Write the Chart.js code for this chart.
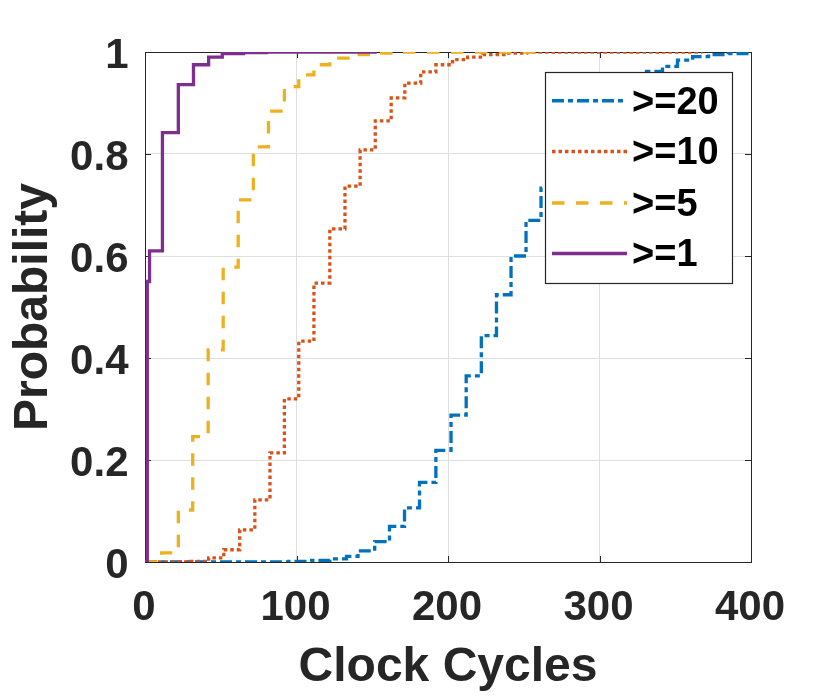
<!DOCTYPE html>
<html>
<head>
<meta charset="utf-8">
<script src="https://cdn.jsdelivr.net/npm/chart.js@4.4.1/dist/chart.umd.min.js"></script>
<style>
html,body{margin:0;padding:0;background:#ffffff;}
#wrap{width:830px;height:697px;position:relative;}
</style>
</head>
<body>
<div id="wrap"><canvas id="c" width="830" height="697"></canvas></div>
<script>
// ---- data ----
const seriesNames = ['>=20', '>=10', '>=5', '>=1'];

const x20 = [0, 95, 110, 122, 133, 140.6, 151.6, 161.4, 171.3, 181.2, 192, 202, 212, 222, 232, 241.6, 251.5, 261.4, 271, 281, 291, 301, 311, 321, 331, 341.6, 351.5, 361.5, 372, 385, 400];
const y20 = [0, 0.001, 0.003, 0.006, 0.011, 0.022, 0.04, 0.07, 0.106, 0.156, 0.219, 0.288, 0.365, 0.444, 0.524, 0.6, 0.67, 0.733, 0.79, 0.84, 0.88, 0.91, 0.935, 0.95, 0.962, 0.972, 0.984, 0.991, 0.995, 0.997, 0.999];

const x10 = [0, 30, 42, 52, 62.5, 72.5, 82.5, 92, 101.5, 111.5, 122, 132, 142, 152, 162.5, 171.5, 182, 192, 203, 213, 223, 238, 252, 368];
const y10 = [0, 0.001, 0.008, 0.024, 0.063, 0.122, 0.214, 0.32, 0.433, 0.547, 0.653, 0.737, 0.808, 0.865, 0.91, 0.939, 0.961, 0.975, 0.985, 0.99, 0.995, 0.998, 1, 1];

const x5 = [0, 11, 22, 31.5, 41.7, 51.6, 61.5, 71.5, 81.5, 92, 101.5, 111.5, 122, 134, 150, 165, 263];
const y5 = [0, 0.018, 0.102, 0.246, 0.416, 0.578, 0.71, 0.814, 0.884, 0.932, 0.955, 0.975, 0.988, 0.995, 0.998, 1, 1];

const x1 = [0, 1.5, 3, 11.5, 22, 32, 42, 51, 65, 80, 153];
const y1 = [0, 0.55, 0.61, 0.842, 0.936, 0.975, 0.99, 0.997, 0.999, 1, 1];

const xTickValues = [0, 100, 200, 300, 400];
const xTickLabels = ['0', '100', '200', '300', '400'];
const yTickValues = [0, 0.2, 0.4, 0.6, 0.8, 1];
const yTickLabels = ['0', '0.2', '0.4', '0.6', '0.8', '1'];

const xTitle = 'Clock Cycles';
const yTitle = 'Probability';

// ---- styles ----
const seriesColors = ['#0072BD', '#D95319', '#EDB120', '#7E2F8E'];
const seriesDashes = [[12, 4, 5, 4], [3.5, 3], [12.5, 11.5], []];
const FONT = '"Liberation Sans", Arial, Helvetica, sans-serif';
const TXT = '#262626';

const pairs = (xs, ys) => xs.map((x, i) => ({ x: x, y: ys[i] }));
const seriesData = [pairs(x20, y20), pairs(x10, y10), pairs(x5, y5), pairs(x1, y1)];

const datasets = seriesData.map((d, i) => ({
  label: seriesNames[i],
  data: d,
  borderColor: seriesColors[i],
  backgroundColor: seriesColors[i],
  borderDash: seriesDashes[i],
  borderWidth: 3.3,
  borderCapStyle: 'butt',
  borderJoinStyle: 'miter',
  pointRadius: 0,
  pointHoverRadius: 0,
  stepped: true,
  fill: false,
  tension: 0,
  order: 3 - i
}));

// frame + inward tick marks (MATLAB style)
const framePlugin = {
  id: 'frame',
  beforeDatasetsDraw(chart) {
    const { ctx, chartArea: a, scales } = chart;
    ctx.save();
    ctx.strokeStyle = TXT;
    ctx.lineWidth = 1;
    ctx.beginPath();
    xTickValues.forEach(v => {
      const px = Math.round(scales.x.getPixelForValue(v)) + 0.5;
      ctx.moveTo(px, a.bottom); ctx.lineTo(px, a.bottom - 6);
      ctx.moveTo(px, a.top); ctx.lineTo(px, a.top + 6);
    });
    yTickValues.forEach(v => {
      const py = Math.round(scales.y.getPixelForValue(v)) + 0.5;
      ctx.moveTo(a.left, py); ctx.lineTo(a.left + 6, py);
      ctx.moveTo(a.right, py); ctx.lineTo(a.right - 6, py);
    });
    ctx.stroke();
    ctx.strokeRect(Math.round(a.left) + 0.5, Math.round(a.top) + 0.5,
                   Math.round(a.right - a.left), Math.round(a.bottom - a.top));
    ctx.restore();
  }
};

// legend box inside the axes (top right)
const legendPlugin = {
  id: 'boxLegend',
  afterDatasetsDraw(chart) {
    const { ctx, chartArea: a } = chart;
    const left = a.right - 206, right = a.right - 19;
    const top = a.top + 20, bottom = a.top + 231;
    ctx.save();
    ctx.fillStyle = '#ffffff';
    ctx.fillRect(left, top, right - left, bottom - top);
    ctx.strokeStyle = TXT;
    ctx.lineWidth = 1.2;
    ctx.strokeRect(left + 0.5, top + 0.5, right - left, bottom - top);
    const rows = [48.8, 99.5, 151, 201.5];
    seriesNames.forEach((name, i) => {
      const y = a.top + rows[i];
      ctx.beginPath();
      ctx.setLineDash(seriesDashes[i]);
      ctx.lineCap = 'butt';
      ctx.strokeStyle = seriesColors[i];
      ctx.lineWidth = 3.5;
      ctx.moveTo(left + 7, y);
      ctx.lineTo(left + 82, y);
      ctx.stroke();
      ctx.setLineDash([]);
      ctx.fillStyle = '#000000';
      ctx.font = 'bold 38px ' + FONT;
      ctx.textAlign = 'left';
      ctx.textBaseline = 'middle';
      ctx.fillText(name, left + 87, y + 2.5);
    });
    ctx.restore();
  }
};

new Chart(document.getElementById('c'), {
  type: 'line',
  data: { datasets: datasets },
  options: {
    responsive: false,
    animation: false,
    devicePixelRatio: 1,
    layout: { padding: { top: 52, right: 79, left: 0, bottom: 0 } },
    plugins: { legend: { display: false }, tooltip: { enabled: false } },
    events: [],
    scales: {
      x: {
        type: 'linear',
        min: 0, max: 400,
        afterBuildTicks: s => { s.ticks = xTickValues.map(v => ({ value: v })); },
        afterFit: s => { s.height = 135; },
        grid: { color: '#dfdfdf', lineWidth: 1, drawTicks: false },
        border: { display: false },
        ticks: {
          autoSkip: false, maxRotation: 0, minRotation: 0,
          padding: 21, labelOffset: -1,
          color: TXT,
          font: { family: FONT, size: 42, weight: 'bold' },
          callback: (v, i) => xTickLabels[i]
        },
        title: {
          display: true, text: xTitle, color: TXT,
          font: { family: FONT, size: 48, weight: 'bold' },
          padding: { top: 0, bottom: 0 }
        }
      },
      y: {
        type: 'linear',
        min: 0, max: 1,
        afterBuildTicks: s => { s.ticks = yTickValues.map(v => ({ value: v })); },
        afterFit: s => { s.width = 145; },
        grid: { color: '#dfdfdf', lineWidth: 1, drawTicks: false },
        border: { display: false },
        ticks: {
          autoSkip: false,
          padding: 16.5, labelOffset: 4,
          color: TXT,
          font: { family: FONT, size: 42, weight: 'bold' },
          callback: (v, i) => yTickLabels[i]
        },
        title: {
          display: true, text: yTitle, color: TXT,
          font: { family: FONT, size: 48, weight: 'bold' },
          padding: { top: 4.6, bottom: 0 }
        }
      }
    }
  },
  plugins: [framePlugin, legendPlugin]
});
</script>
</body>
</html>
